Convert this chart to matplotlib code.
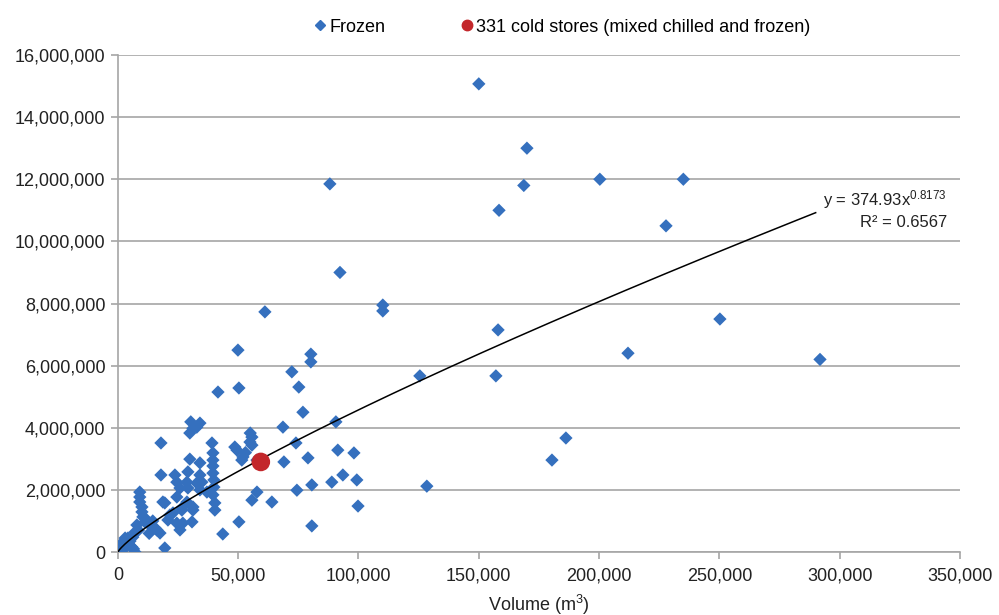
import numpy as np
import matplotlib
matplotlib.use("Agg")
import matplotlib.pyplot as plt
from matplotlib.lines import Line2D
from matplotlib.ticker import FuncFormatter, MultipleLocator

plt.rcParams['font.family'] = ['Liberation Sans', 'DejaVu Sans']
plt.rcParams['mathtext.default'] = 'regular'

# Frozen stores: volume (thousand m3) and value (million)
vol_k = [150.0, 170.0, 168.7, 158.4, 200.3, 235.0, 227.8, 250.2, 212.0, 291.8,
         180.4, 186.2, 158.0, 157.1, 125.5, 128.4, 99.8, 110.1, 110.1, 88.1, 92.3,
         61.1, 49.9, 50.3, 41.6, 80.2, 80.2, 72.3, 75.2, 76.9, 90.6, 68.6, 74.0,
         91.4, 98.1, 93.5, 99.3, 88.9, 80.6, 74.4, 80.6, 64.0, 69.0, 79.0, 50.3,
         43.6, 57.8, 55.7, 55.7, 55.7, 49.5, 52.0, 54.9, 55.0, 53.0,
         30.3, 34.1, 29.9, 32.8, 31.2, 17.9, 29.9, 34.1, 29.1, 34.1, 17.9, 23.7,
         24.5, 28.7, 25.8, 29.1, 32.8, 34.1, 37.0, 18.7, 28.7, 31.2, 26.6, 21.6,
         39.1, 39.5, 39.5, 39.5, 39.5, 39.9, 39.9, 39.5, 40.3, 40.3,
         48.6, 51.5, 57.8,
         9.1, 9.1, 9.1, 10.0, 10.0, 10.4, 11.2, 13.3, 15.4, 17.5, 7.9, 7.1, 6.2,
         4.2, 2.1, 0.8, 0.0, 2.9, 5.8, 7.1, 4.2, 19.5, 19.5, 22.9, 24.5, 27.0,
         30.8, 25.8, 20.8, 26.6, 31.2, 24.5, 34.9, 12.5, 16.2, 1.5, 3.5, 5.0,
         8.5, 11.8, 13.0, 6.5, 14.5, 3.0]
cost_m = [15.07, 13.0, 11.8, 11.0, 12.0, 12.0, 10.5, 7.5, 6.4, 6.2,
          2.96, 3.67, 7.15, 5.67, 5.67, 2.12, 1.48, 7.95, 7.76, 11.85, 9.0,
          7.73, 6.5, 5.28, 5.15, 6.37, 6.12, 5.8, 5.31, 4.5, 4.19, 4.02, 3.51,
          3.28, 3.19, 2.48, 2.32, 2.25, 2.16, 1.99, 0.84, 1.61, 2.9, 3.03, 0.97,
          0.58, 1.93, 1.67, 3.70, 3.44, 3.28, 3.06, 3.54, 3.83, 3.2,
          4.19, 4.15, 3.83, 4.02, 3.98, 3.51, 2.99, 2.87, 2.58, 2.48, 2.48, 2.48,
          2.25, 2.25, 2.06, 2.06, 2.22, 2.0, 1.93, 1.61, 1.61, 1.45, 1.42, 1.19,
          3.51, 3.19, 2.96, 2.77, 2.54, 2.32, 2.09, 1.84, 1.58, 1.35,
          3.38, 2.96, 2.96,
          1.93, 1.77, 1.61, 1.45, 1.29, 1.13, 0.97, 0.87, 0.77, 0.61, 0.87, 0.64, 0.48,
          0.45, 0.32, 0.16, 0.0, 0.13, 0.16, 0.0, 0.29, 0.13, 1.58, 1.26, 0.93, 0.93,
          0.97, 0.71, 1.03, 1.35, 1.35, 1.77, 2.25, 0.93, 0.71, 0.05, 0.2, 0.35,
          0.7, 1.05, 0.6, 0.1, 1.0, 0.45]

# Mixed chilled and frozen (331 cold stores)
mixed_vol = [59.4]
mixed_cost_m = [2.9]

# Power trend line y = a * x^b
trend_a = 374.93
trend_b = 0.8173
trend_r2 = 0.6567
trend_xmax = 290000

x = np.array(vol_k) * 1000
y = np.array(cost_m) * 1e6

fig = plt.figure(figsize=(9.99, 6.15), dpi=100)
ax = fig.add_axes([0.118, 0.1024, 0.843, 0.8082])

blue = '#3570BE'
red = '#C3272B'
grid_c = '#A6A6A6'

ax.scatter(x, y, marker='D', s=46, color=blue, edgecolors='none', zorder=3)
xt = np.linspace(1, trend_xmax, 400)
ax.plot(xt, trend_a * xt ** trend_b, color='black', lw=1.1, zorder=4)
ax.scatter(np.array(mixed_vol) * 1000, np.array(mixed_cost_m) * 1e6, marker='o', s=180,
           color=red, edgecolors='none', zorder=5)

ax.set_xlim(0, 350000)
ax.set_ylim(0, 16000000)
ax.xaxis.set_major_locator(MultipleLocator(50000))
ax.yaxis.set_major_locator(MultipleLocator(2000000))
fmt = FuncFormatter(lambda v, p: f"{int(round(v)):,}")
ax.xaxis.set_major_formatter(fmt)
ax.yaxis.set_major_formatter(fmt)

ax.grid(axis='y', color=grid_c, lw=1.2)
ax.set_axisbelow(True)
for s in ['top', 'right']:
    ax.spines[s].set_visible(False)
for s in ['left', 'bottom']:
    ax.spines[s].set_color(grid_c)
    ax.spines[s].set_linewidth(1.2)
ax.tick_params(axis='both', colors=grid_c, labelcolor='#222222', labelsize=13,
               length=5, width=1.2, direction='out')
ax.tick_params(axis='y', pad=4)
ax.tick_params(axis='x', pad=6)

ax.set_xlabel('Volume (m$^3$)', fontsize=13, color='#222222', labelpad=6)

ax.text(344500, 11.35e6, f'y = {trend_a}x$^{{{trend_b}}}$', ha='right', va='center',
        fontsize=12, color='#222222')
ax.text(344500, 10.62e6, f'R² = {trend_r2}', ha='right', va='center',
        fontsize=12, color='#222222')

handles = [Line2D([], [], marker='D', ls='none', color=blue, markersize=5.5),
           Line2D([], [], marker='o', ls='none', color=red, markersize=7.5)]
fig.legend(handles, ['Frozen', '331 cold stores (mixed chilled and frozen)'],
           loc='center', bbox_to_anchor=(0.562, 0.956), ncol=2, frameon=False,
           fontsize=13, handletextpad=0.1, columnspacing=4.1, handlelength=0.8)

fig.savefig('out.png', dpi=100)
